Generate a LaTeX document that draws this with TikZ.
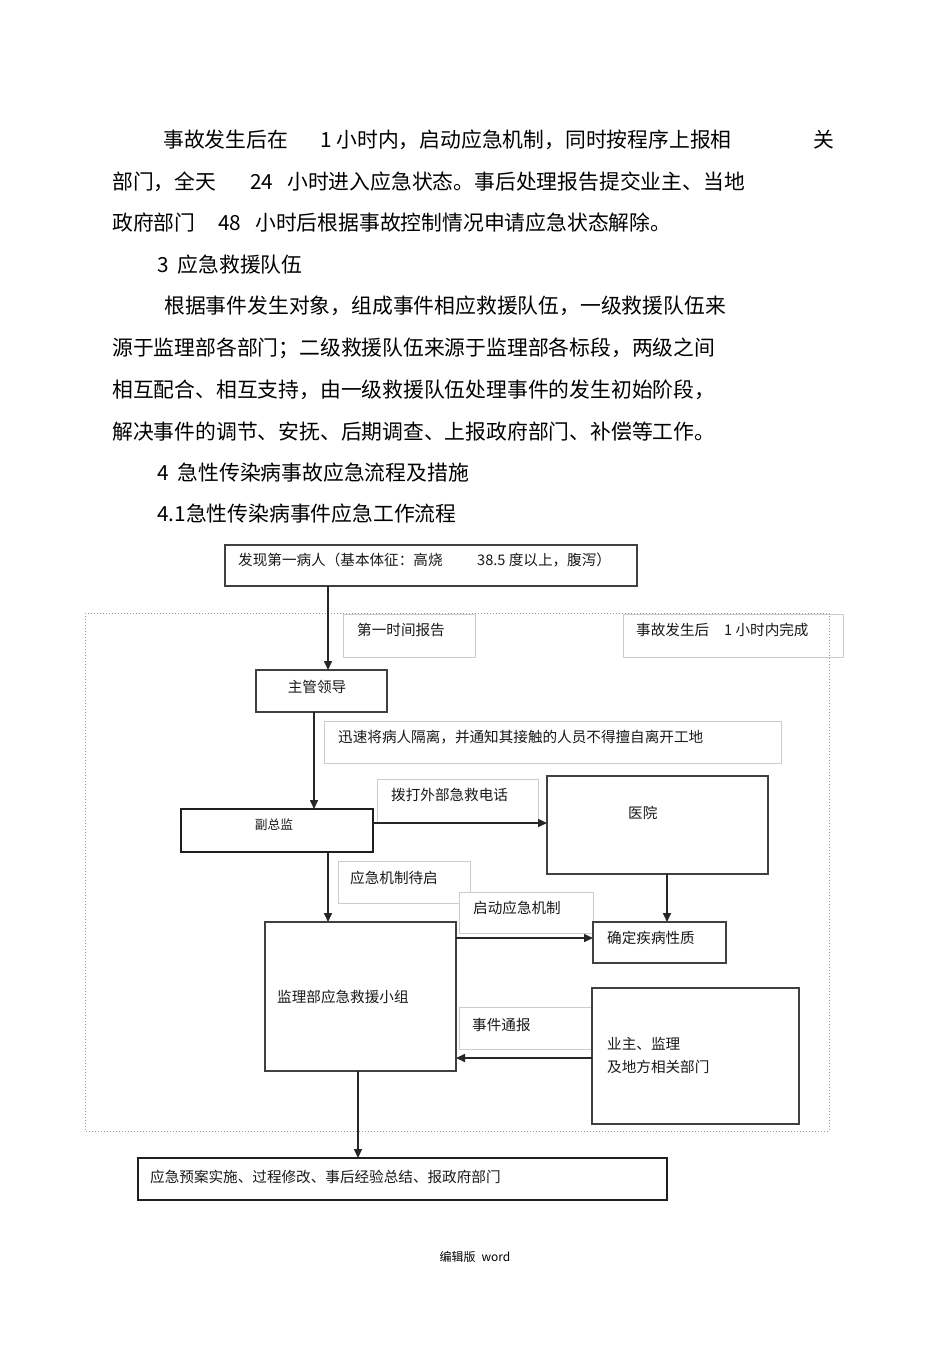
\documentclass[tikz,border=0pt]{standalone}
\usepackage{fontspec}
\setmainfont{Noto Sans CJK SC}
\usetikzlibrary{arrows.meta}
\begin{document}
\begin{tikzpicture}[x=1pt,y=-1pt,
  body/.style={anchor=west,inner sep=0pt,font=\fontsize{20.8}{24}\selectfont},
  dtxt/.style={anchor=west,inner sep=0pt,font=\fontsize{14.6}{17}\selectfont,text=black!90},
  mainbox/.style={draw=black!75,line width=1.3pt,fill=white,inner sep=0pt,outer sep=0pt,anchor=north west},
  thickbox/.style={mainbox,line width=2pt,draw=black!88},
  lblbox/.style={draw=black!20,line width=0.9pt,fill=white,inner sep=0pt,outer sep=0pt,anchor=north west},
  arr/.style={draw=black!85,line width=1.6pt,-{Triangle[length=9pt,width=8pt]}},
  frameline/.style={draw=black!40,line width=1pt,dotted}
]
\path[use as bounding box] (0,0) rectangle (950,1345);

% ---------- body text ----------
\node[body] (t1a) at (163,140) {事故发生后在};
\node[body] (t1b) at (320,140) {1 小时内，启动应急机制，同时按程序上报相};
\node[body] (t1c) at (813,140) {关};
\node[body] (t2a) at (112,182) {部门，全天};
\node[body] (t2b) at (250,182) {24};
\node[body] (t2c) at (287,182) {小时进入应急状态。事后处理报告提交业主、当地};
\node[body] (t3a) at (112,223) {政府部门};
\node[body] (t3b) at (218,223) {48};
\node[body] (t3c) at (255,223) {小时后根据事故控制情况申请应急状态解除。};
\node[body] (t4) at (157,265) {3\hspace{9pt}应急救援队伍};
\node[body] (t5) at (164,306) {根据事件发生对象，组成事件相应救援队伍，一级救援队伍来};
\node[body] (t6) at (112,348) {源于监理部各部门；二级救援队伍来源于监理部各标段，两级之间};
\node[body] (t7) at (112,390) {相互配合、相互支持，由一级救援队伍处理事件的发生初始阶段，};
\node[body] (t8) at (112,432) {解决事件的调节、安抚、后期调查、上报政府部门、补偿等工作。};
\node[body] (t9) at (157,473) {4\hspace{9pt}急性传染病事故应急流程及措施};
\node[body] (t10) at (157,514) {4.1急性传染病事件应急工作流程};

% ---------- column / row coordinates ----------
\coordinate (cA) at (328,0);
\coordinate (cB) at (314,0);
\coordinate (cC) at (667,0);
\coordinate (cD) at (358,0);
\coordinate (rA) at (0,823);
\coordinate (rB) at (0,938);
\coordinate (rC) at (0,1058);

% ---------- boxes ----------
\node[mainbox,minimum width=412pt,minimum height=41pt] (top) at (225,545) {};
\node[lblbox,minimum width=132pt,minimum height=43pt] (l1) at (343,614) {};
\node[lblbox,minimum width=220pt,minimum height=43pt] (l2) at (623,614) {};
\draw[frameline] (85,613) rectangle (829,1131);
\node[mainbox,minimum width=131pt,minimum height=42pt] (zg) at (256,670) {};
\node[lblbox,minimum width=457pt,minimum height=42pt] (l3) at (324,721) {};
\node[lblbox,minimum width=161pt,minimum height=43pt] (l4) at (377,779) {};
\node[thickbox,minimum width=192pt,minimum height=43pt] (fz) at (181,809) {};
\node[mainbox,minimum width=221pt,minimum height=98pt] (yy) at (547,776) {};
\node[lblbox,minimum width=132pt,minimum height=42pt] (l5) at (338,861) {};
\node[lblbox,minimum width=134pt,minimum height=41pt] (l6) at (459,892) {};
\node[mainbox,minimum width=191pt,minimum height=149pt] (jl) at (265,922) {};
\node[mainbox,minimum width=133pt,minimum height=41pt] (qd) at (593,922) {};
\node[lblbox,minimum width=140pt,minimum height=42pt] (l7) at (459,1007) {};
\node[mainbox,minimum width=207pt,minimum height=136pt] (yz) at (592,988) {};
\node[thickbox,minimum width=529pt,minimum height=42pt] (fin) at (138,1158) {};

% ---------- box texts ----------
\node[dtxt] (x1) at (238,560) {发现第一病人（基本体征：高烧};
\node[dtxt] (x2) at (477,560) {38.5 度以上，腹泻）};
\node[dtxt] (x3) at (357,630) {第一时间报告};
\node[dtxt] (x4) at (636,630) {事故发生后};
\node[dtxt] (x5) at (724,630) {1 小时内完成};
\node[dtxt,anchor=center] (x6) at (317,687) {主管领导};
\node[dtxt] (x7) at (338,737) {迅速将病人隔离，并通知其接触的人员不得擅自离开工地};
\node[dtxt] (x8) at (391,795) {拨打外部急救电话};
\node[dtxt,anchor=center,font=\fontsize{12.7}{15}\selectfont] (x9) at (274,825) {副总监};
\node[dtxt] (x10) at (628,813) {医院};
\node[dtxt] (x11) at (350,878) {应急机制待启};
\node[dtxt] (x12) at (473,908) {启动应急机制};
\node[dtxt] (x13) at (277,997) {监理部应急救援小组};
\node[dtxt] (x14) at (607,938) {确定疾病性质};
\node[dtxt] (x15) at (472,1025) {事件通报};
\node[dtxt] (x16) at (607,1044) {业主、监理};
\node[dtxt] (x17) at (607,1067) {及地方相关部门};
\node[dtxt] (x18) at (150,1177) {应急预案实施、过程修改、事后经验总结、报政府部门};
\node[anchor=center,inner sep=0pt,font=\fontsize{12}{14}\selectfont] (foot) at (475,1257) {编辑版\hspace{6pt}word};

% ---------- connectors ----------
\draw[arr] (top.south -| cA) -- (zg.north -| cA);
\draw[arr] (zg.south -| cB) -- (fz.north -| cB);
\draw[arr] (fz.east |- rA) -- (yy.west |- rA);
\draw[arr] (fz.south -| cA) -- (jl.north -| cA);
\draw[arr] (yy.south -| cC) -- (qd.north -| cC);
\draw[arr] (jl.east |- rB) -- (qd.west |- rB);
\draw[arr] (yz.west |- rC) -- (jl.east |- rC);
\draw[arr] (jl.south -| cD) -- (fin.north -| cD);
\end{tikzpicture}
\end{document}
